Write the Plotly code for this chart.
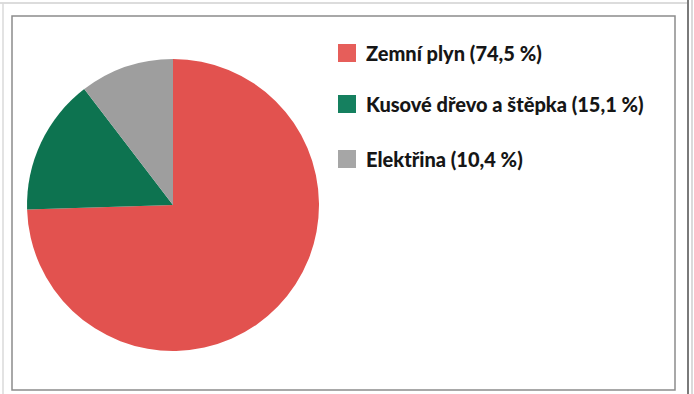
import plotly.graph_objects as go

# Heating energy sources and their shares (%)
labels = ["Zemní plyn", "Kusové dřevo a štěpka", "Elektřina"]
shares = [74.5, 15.1, 10.4]
colors = ["#E2524F", "#0D7350", "#9E9E9E"]
legend_colors = ["#E65E5A", "#15805F", "#A6A6A6"]

W, H = 694, 394


def px(x):
    return x / W


def py(y):
    return 1 - y / H


fig = go.Figure(
    go.Pie(
        labels=labels,
        values=shares,
        sort=False,
        direction="clockwise",
        rotation=0,
        marker=dict(colors=colors, line=dict(width=0)),
        textinfo="none",
        hoverinfo="label+percent",
        showlegend=False,
        domain=dict(x=[px(27), px(319)], y=[py(351), py(59)]),
    )
)

shapes = [
    # inner frame of the chart area
    dict(type="rect", xref="paper", yref="paper",
         x0=px(12), x1=px(675), y0=py(390), y1=py(16),
         line=dict(color="#8C8C8C", width=1.5), fillcolor="rgba(0,0,0,0)"),
    # outer page frame lines
    dict(type="line", xref="paper", yref="paper",
         x0=px(0), x1=px(688), y0=py(3), y1=py(3),
         line=dict(color="#D0D0D0", width=1.5)),
    dict(type="line", xref="paper", yref="paper",
         x0=px(3), x1=px(3), y0=py(394), y1=py(3),
         line=dict(color="#DADADA", width=1.5)),
    dict(type="line", xref="paper", yref="paper",
         x0=px(688), x1=px(688), y0=py(394), y1=py(0),
         line=dict(color="#7A7A7A", width=2)),
    dict(type="line", xref="paper", yref="paper",
         x0=px(692), x1=px(692), y0=py(394), y1=py(0),
         line=dict(color="#B5B5B5", width=1)),
]

annotations = []
row_centers = [53, 104, 159]
for lab, val, col, yc in zip(labels, shares, legend_colors, row_centers):
    shapes.append(dict(type="rect", xref="paper", yref="paper",
                       x0=px(338), x1=px(356), y0=py(yc + 9), y1=py(yc - 9),
                       line=dict(width=0), fillcolor=col))
    txt = f"{lab} ({val:.1f} %)".replace(".", ",")
    annotations.append(dict(
        xref="paper", yref="paper", x=px(364), y=py(yc),
        xanchor="left", yanchor="middle", showarrow=False,
        text=txt,
        font=dict(family="Lato", size=20, color="#161616", weight=900),
    ))

fig.update_layout(
    width=W, height=H,
    margin=dict(l=0, r=0, t=0, b=0),
    paper_bgcolor="white",
    plot_bgcolor="white",
    shapes=shapes,
    annotations=annotations,
)

fig.write_html("out.html")
